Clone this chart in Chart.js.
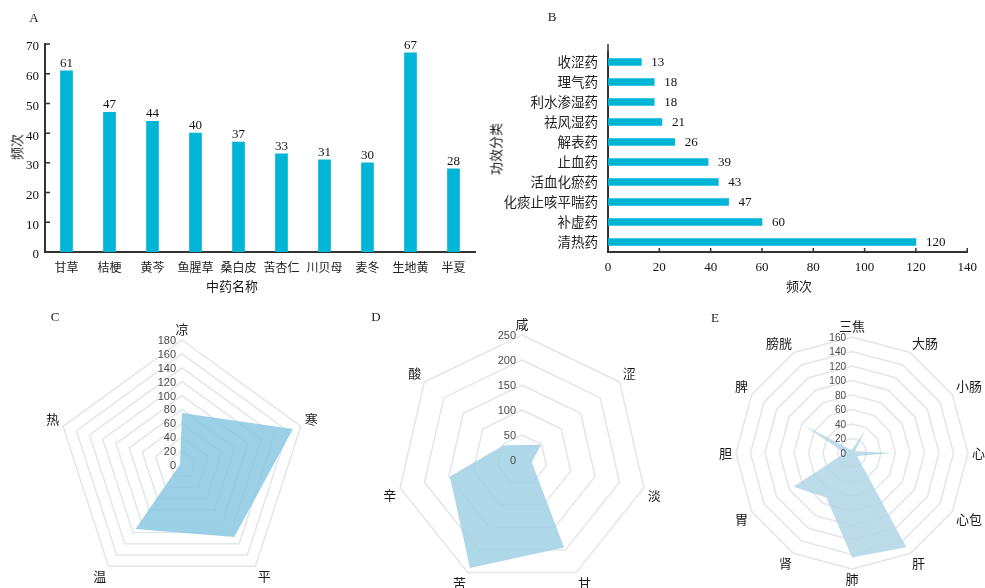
<!DOCTYPE html>
<html>
<head>
<meta charset="utf-8">
<script src="https://cdn.jsdelivr.net/npm/chart.js@4.4.1/dist/chart.umd.min.js"></script>
<style>
  html, body { margin: 0; padding: 0; background: #fff; width: 985px; height: 588px; overflow: hidden; }
  .box { position: absolute; }
  .box canvas { display: block; }
  .t { position: absolute; transform: translate(-50%, -50%); white-space: nowrap; line-height: 1; color: #1a1a1a; }
  .cjk { font-family: 'Noto Sans CJK SC', sans-serif; font-size: 13px; }
  .letter { font-family: 'Liberation Serif', serif; font-size: 13px; }
  .vert { transform: translate(-50%, -50%) rotate(-90deg); }
</style>
</head>
<body>

<div class="box" style="left:0;top:0"><canvas id="chartA" width="480" height="300"></canvas></div>
<div class="box" style="left:480px;top:0"><canvas id="chartB" width="505" height="300"></canvas></div>
<div class="box" style="left:20px;top:300px"><canvas id="chartC" width="330" height="300"></canvas></div>
<div class="box" style="left:350px;top:300px"><canvas id="chartD" width="340" height="300"></canvas></div>
<div class="box" style="left:690px;top:300px"><canvas id="chartE" width="295" height="300"></canvas></div>

<div class="t letter" style="left:34px;top:17px">A</div>
<div class="t letter" style="left:552px;top:16px">B</div>
<div class="t letter" style="left:55px;top:316px">C</div>
<div class="t letter" style="left:376px;top:316px">D</div>
<div class="t letter" style="left:715px;top:317px">E</div>

<div class="t cjk vert" style="left:16px;top:147px">频次</div>
<div class="t cjk" style="left:232px;top:285px">中药名称</div>
<div class="t cjk vert" style="left:495px;top:149px">功效分类</div>
<div class="t cjk" style="left:799px;top:285px">频次</div>

<script>
// ---- data ----
const herbNames = ['甘草', '桔梗', '黄芩', '鱼腥草', '桑白皮', '苦杏仁', '川贝母', '麦冬', '生地黄', '半夏'];
const herbFreq = [61, 47, 44, 40, 37, 33, 31, 30, 67, 28];

const efficacyClasses = ['收涩药', '理气药', '利水渗湿药', '祛风湿药', '解表药', '止血药', '活血化瘀药', '化痰止咳平喘药', '补虚药', '清热药'];
const efficacyFreq = [13, 18, 18, 21, 26, 39, 43, 47, 60, 120];

const natureLabels = ['凉', '寒', '平', '温', '热'];
const natureFreq = [75, 168, 128, 114, 3];

const flavorLabels = ['咸', '涩', '淡', '甘', '苦', '辛', '酸'];
const flavorFreq = [30, 49, 20, 194, 240, 148, 47];

const meridianLabels = ['三焦', '大肠', '小肠', '心', '心包', '肝', '肺', '肾', '胃', '胆', '脾', '膀胱'];
const meridianFreq = [5, 36, 5, 57, 8, 150, 144, 71, 93, 10, 75, 6];

// axis ranges
const herbAxis = { max: 70, step: 10 };
const efficacyAxis = { max: 140, step: 20 };
const natureAxis = { max: 180, step: 20 };
const flavorAxis = { max: 250, step: 50 };
const meridianAxis = { max: 160, step: 20 };

// ---- styling ----
const BAR = '#00b5d6';
const AXIS = '#333333';
const SERIF = "'Liberation Serif', 'Times New Roman', serif";
const CJK = "'Noto Sans CJK SC', sans-serif";
const RING = '#e2e5ea';

// value numbers next to each bar
const barValueLabels = {
  id: 'barValueLabels',
  afterDatasetsDraw(chart, args, opts) {
    const ctx = chart.ctx;
    const meta = chart.getDatasetMeta(0);
    const vals = chart.data.datasets[0].data;
    ctx.save();
    ctx.font = opts.font;
    ctx.fillStyle = opts.color;
    meta.data.forEach((bar, i) => {
      if (opts.horizontal) {
        ctx.textAlign = 'left';
        ctx.textBaseline = 'middle';
        ctx.fillText(String(vals[i]), bar.x + opts.gap, bar.y + 1);
      } else {
        ctx.textAlign = 'center';
        ctx.textBaseline = 'alphabetic';
        ctx.fillText(String(vals[i]), bar.x, bar.y - opts.gap);
      }
    });
    ctx.restore();
  }
};

// short tick marks pointing into the plot area
const innerTicks = {
  id: 'innerTicks',
  afterDraw(chart, args, opts) {
    const s = chart.scales[opts.axis];
    const a = chart.chartArea;
    const ctx = chart.ctx;
    ctx.save();
    ctx.strokeStyle = AXIS;
    ctx.lineWidth = 1.5;
    ctx.beginPath();
    s.ticks.forEach(t => {
      const p = s.getPixelForValue(t.value);
      if (opts.axis === 'y') {
        ctx.moveTo(a.left, p); ctx.lineTo(a.left + opts.len, p);
      } else {
        ctx.moveTo(p, a.bottom); ctx.lineTo(p, a.bottom - opts.len);
      }
    });
    if (opts.extendTop) {
      ctx.moveTo(a.left, a.top); ctx.lineTo(a.left, a.top - opts.extendTop);
    }
    ctx.stroke();
    ctx.restore();
  }
};

// ---- A: top herbs ----
new Chart(document.getElementById('chartA'), {
  type: 'bar',
  data: {
    labels: herbNames,
    datasets: [{ data: herbFreq, backgroundColor: BAR, barThickness: 12 }]
  },
  options: {
    responsive: false,
    animation: false,
    layout: { padding: { top: 44, right: 5, left: 0, bottom: 0 } },
    plugins: {
      legend: { display: false },
      tooltip: { enabled: false },
      barValueLabels: { font: '13px ' + SERIF, color: '#111', gap: 4 },
      innerTicks: { axis: 'y', len: 5 }
    },
    scales: {
      x: {
        grid: { display: false, drawTicks: false },
        border: { display: true, color: AXIS, width: 2 },
        ticks: { font: { family: CJK, size: 12 }, color: '#222', padding: 8, maxRotation: 0, autoSkip: false },
        afterFit(s) { s.height = 48; }
      },
      y: {
        min: 0, max: herbAxis.max,
        grid: { display: false, drawTicks: false },
        border: { display: true, color: AXIS, width: 2 },
        ticks: { stepSize: herbAxis.step, font: { family: SERIF, size: 13 }, color: '#111', padding: 6, labelOffset: 3 },
        afterFit(s) { s.width = 45; }
      }
    }
  },
  plugins: [barValueLabels, innerTicks]
});

// ---- B: efficacy classes ----
new Chart(document.getElementById('chartB'), {
  type: 'bar',
  data: {
    labels: efficacyClasses,
    datasets: [{ data: efficacyFreq, backgroundColor: BAR, barThickness: 7 }]
  },
  options: {
    indexAxis: 'y',
    responsive: false,
    animation: false,
    layout: { padding: { top: 52, right: 12, left: 0, bottom: 0 } },
    plugins: {
      legend: { display: false },
      tooltip: { enabled: false },
      barValueLabels: { font: '13px ' + SERIF, color: '#111', gap: 10, horizontal: true },
      innerTicks: { axis: 'x', len: 4, extendTop: 8 }
    },
    scales: {
      x: {
        min: 0, max: efficacyAxis.max,
        grid: { display: false, drawTicks: false },
        border: { display: true, color: AXIS, width: 2 },
        ticks: { stepSize: efficacyAxis.step, font: { family: SERIF, size: 13 }, color: '#111', padding: 8 },
        afterFit(s) { s.height = 48; }
      },
      y: {
        grid: { display: false, drawTicks: false },
        border: { display: true, color: AXIS, width: 2 },
        ticks: { font: { family: CJK, size: 13.5 }, color: '#222', padding: 10, autoSkip: false },
        afterFit(s) { s.width = 128; }
      }
    }
  },
  plugins: [barValueLabels, innerTicks]
});

// ---- radar charts: scale numbers and rim labels ----
const radarDecor = {
  id: 'radarDecor',
  afterDatasetsDraw(chart, args, opts) {
    const s = chart.scales.r;
    const ctx = chart.ctx;
    ctx.save();
    ctx.font = opts.tickFont;
    ctx.fillStyle = '#4a4a4a';
    ctx.textAlign = 'right';
    ctx.textBaseline = 'middle';
    s.ticks.forEach(t => {
      const d = s.getDistanceFromCenterForValue(t.value);
      ctx.fillText(t.label, s.xCenter - opts.tickGap, s.yCenter - d + 1);
    });
    ctx.font = opts.labelFont;
    ctx.fillStyle = '#1a1a1a';
    chart.data.labels.forEach((lab, i) => {
      const p = s.getPointPosition(i, s.drawingArea + opts.labelPad);
      let deg = (p.angle * 180 / Math.PI + 90) % 360;
      if (deg < 0) deg += 360;
      const near = v => Math.abs(deg - v) < 0.5;
      ctx.textAlign = (near(0) || near(360) || near(180)) ? 'center' : (deg < 180 ? 'left' : 'right');
      ctx.textBaseline = (near(90) || near(270)) ? 'middle' : ((deg < 90 || deg > 270) ? 'bottom' : 'top');
      ctx.fillText(lab, p.x, p.y);
    });
    ctx.restore();
  }
};

function radar(id, labels, values, axis, fill, pad, tickSize) {
  return new Chart(document.getElementById(id), {
    type: 'radar',
    data: {
      labels: labels,
      datasets: [{
        data: values,
        backgroundColor: fill,
        borderColor: 'rgba(0,0,0,0)',
        borderWidth: 0,
        pointRadius: 0,
        pointHoverRadius: 0,
        fill: 'origin',
        tension: 0
      }]
    },
    options: {
      responsive: false,
      animation: false,
      layout: { padding: pad },
      plugins: {
        legend: { display: false },
        tooltip: { enabled: false },
        radarDecor: {
          tickFont: tickSize + "px 'Liberation Sans', Arial, sans-serif",
          tickGap: 6,
          labelFont: '13px ' + CJK,
          labelPad: 4
        }
      },
      scales: {
        r: {
          min: 0, max: axis.max,
          ticks: { stepSize: axis.step, display: false },
          grid: { color: RING, lineWidth: 1.5 },
          angleLines: { display: false },
          pointLabels: { display: false }
        }
      }
    },
    plugins: [radarDecor]
  });
}

radar('chartC', natureLabels, natureFreq, natureAxis, 'rgba(138,200,226,0.85)',
  { left: 37, top: 40, right: 43, bottom: 10 }, 11);
radar('chartD', flavorLabels, flavorFreq, flavorAxis, 'rgba(160,208,228,0.85)',
  { left: 47, top: 35, right: 43, bottom: 15 }, 11);
radar('chartE', meridianLabels, meridianFreq, meridianAxis, 'rgba(176,214,229,0.85)',
  { left: 46, top: 37, right: 17, bottom: 31 }, 10);
</script>
</body>
</html>
